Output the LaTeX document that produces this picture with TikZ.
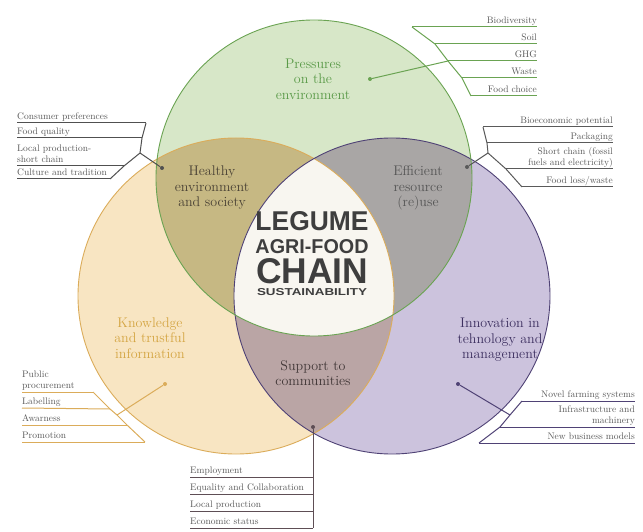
\documentclass[tikz,border=0pt]{standalone}
\usepackage{graphicx}
\usepackage{fontspec}
\newfontfamily\titlefont{Liberation Sans}
\usepackage{tikz}

\definecolor{grnline}{HTML}{6AA352}
\definecolor{grnfill}{HTML}{D7E7C8}
\definecolor{grntext}{HTML}{5A9A48}
\definecolor{orgline}{HTML}{DBAC5A}
\definecolor{orgfill}{HTML}{F8E5C2}
\definecolor{orgtext}{HTML}{D4A543}
\definecolor{purline}{HTML}{4F4275}
\definecolor{purfill}{HTML}{CCC3DD}
\definecolor{purtext}{HTML}{3D3060}
\definecolor{gofill}{HTML}{C6B883}
\definecolor{gpfill}{HTML}{A9A6A5}
\definecolor{opfill}{HTML}{BAA5A5}
\definecolor{midfill}{HTML}{F8F6F0}
\definecolor{hstext}{HTML}{4A4235}
\definecolor{ertext}{HTML}{555555}
\definecolor{sctext}{HTML}{403636}
\definecolor{titletext}{HTML}{3E3E3E}
\definecolor{hsline}{HTML}{505050}
\definecolor{erline}{HTML}{5A5A5A}
\definecolor{scline}{HTML}{5E4E55}

\newcommand{\ttlline}[3]{\hbox to 113pt{\hss\resizebox{#1}{#2}{#3}\hss}}

\begin{document}
\begin{tikzpicture}[x=1pt, y=-1pt]
    \tikzset{
        itemtext/.style={
            inner xsep=0pt, inner ysep=1pt, text depth=2.5pt,
            font=\fontsize{9.5}{10.5}\selectfont, text=black!65
        },
        itemR/.style={itemtext, anchor=south east, align=right},
        itemL/.style={itemtext, anchor=south west, align=left},
        circlabel/.style={align=center, font=\fontsize{14}{15.5}\selectfont},
        titlebox/.style={inner sep=0pt, anchor=south, text=titletext, font=\titlefont\bfseries},
        pin/.style={circle, fill, inner sep=0pt, minimum size=4pt},
        leader/.style={line width=1pt},
    }
    \useasboundingbox (0,0) rectangle (643,532);

    % ==== Circle centres ====
    \coordinate (cg) at (314,178);
    \coordinate (co) at (236,296);
    \coordinate (cp) at (392,296);

    % ==== Fills ====
    \fill[orgfill] (co) circle[radius=158pt];
    \fill[purfill] (cp) circle[radius=158pt];
    \fill[grnfill] (cg) circle[radius=158pt];
    \begin{scope}
        \clip (cg) circle[radius=158pt];
        \fill[gofill] (co) circle[radius=158pt];
        \fill[gpfill] (cp) circle[radius=158pt];
    \end{scope}
    \begin{scope}
        \clip (co) circle[radius=158pt];
        \fill[opfill] (cp) circle[radius=158pt];
    \end{scope}
    \begin{scope}
        \clip (cg) circle[radius=158pt];
        \clip (co) circle[radius=158pt];
        \fill[midfill] (cp) circle[radius=158pt];
    \end{scope}

    % ==== Outlines ====
    \draw[orgline, line width=0.9pt] (co) circle[radius=158pt];
    \draw[purline, line width=0.9pt] (cp) circle[radius=158pt];
    \draw[grnline, line width=0.9pt] (cg) circle[radius=158pt];

    % ==== Circle labels ====
    \node[circlabel, text=grntext] (lblP) at (313,79) {Pressures\\on the\\environment};
    \node[circlabel, text=hstext] (lblH) at (212,188) {Healthy\\environment\\and society};
    \node[circlabel, text=ertext] (lblE) at (418,188) {Efficient\\resource\\(re)use};
    \node[circlabel, text=orgtext] (lblK) at (150,338) {Knowledge\\and trustful\\information};
    \node[circlabel, text=purtext] (lblI) at (500,340) {Innovation in\\tehnology and\\management};
    \node[circlabel, text=sctext] (lblS) at (313,373) {Support to\\communities};

    % ==== Centre title ====
    \node[titlebox] (ttl) at (312,296) {\vbox{\offinterlineskip
        \ttlline{113pt}{19pt}{LEGUME}\vskip8pt
        \ttlline{113pt}{14pt}{AGRI-FOOD}\vskip5pt
        \ttlline{112pt}{25pt}{CHAIN}\vskip5pt
        \ttlline{110pt}{7pt}{SUSTAINABILITY}}};

    % ==== Pressures on the environment ====
    \node[pin, grnline] (pdot) at (370,79) {};
    \coordinate (pk1) at (412,27);
    \coordinate (pk2) at (435,44);
    \coordinate (pk3) at (448,61);
    \coordinate (pk4) at (462,78);
    \coordinate (pk5) at (471,96);
    \node[itemR] (pi1) at (537,27) {Biodiversity};
    \node[itemR] (pi2) at (537,44) {Soil};
    \node[itemR] (pi3) at (537,61) {GHG};
    \node[itemR] (pi4) at (537,78) {Waste};
    \node[itemR] (pi5) at (537,96) {Food choice};
    \draw[leader, grnline] (pk1) -- (pk2) -- (pk3) -- (pk4) -- (pk5);
    \foreach \i in {1,...,5}
        \draw[leader, grnline] (pk\i) -- (pi\i.south east);
    \draw[leader, grnline] (pdot) -- (pk3);

    % ==== Healthy environment and society ====
    \node[pin, hsline] (hdot) at (162,168) {};
    \coordinate (hk1) at (146,123);
    \coordinate (hk2) at (142,138);
    \coordinate (hkm) at (140,153);
    \coordinate (hk3) at (124,166);
    \coordinate (hk4) at (110,179);
    \node[itemL] (hi1) at (17,123) {Consumer preferences};
    \node[itemL] (hi2) at (17,138) {Food quality};
    \node[itemL] (hi3) at (17,166) {Local production-\\short chain};
    \node[itemL] (hi4) at (17,179) {Culture and tradition};
    \draw[leader, hsline] (hk1) -- (hk2) -- (hkm) -- (hk3) -- (hk4);
    \foreach \i in {1,...,4}
        \draw[leader, hsline] (hi\i.south west) -- (hk\i);
    \draw[leader, hsline] (hdot) -- (hkm);

    % ==== Efficient resource (re)use ====
    \node[pin, erline] (edot) at (467,167) {};
    \coordinate (ek1) at (483,127);
    \coordinate (ek2) at (487,143);
    \coordinate (ekm) at (488,153);
    \coordinate (ek3) at (506,169);
    \coordinate (ek4) at (522,187);
    \node[itemR] (ei1) at (613,127) {Bioeconomic potential};
    \node[itemR] (ei2) at (613,143) {Packaging};
    \node[itemR] (ei3) at (613,169) {Short chain (fossil\\fuels and electricity)};
    \node[itemR] (ei4) at (613,187) {Food loss/waste};
    \draw[leader, erline] (ek1) -- (ek2) -- (ekm) -- (ek3) -- (ek4);
    \foreach \i in {1,...,4}
        \draw[leader, erline] (ek\i) -- (ei\i.south east);
    \draw[leader, erline] (edot) -- (ekm);

    % ==== Knowledge and trustful information ====
    \node[pin, orgline] (kdot) at (165,384) {};
    \coordinate (kk1) at (93,392);
    \coordinate (kk2) at (110,409);
    \coordinate (kkm) at (117,415);
    \coordinate (kk3) at (127,425);
    \coordinate (kk4) at (145,442);
    \node[itemL] (ki1) at (22,392) {Public\\procurement};
    \node[itemL] (ki2) at (22,408) {Labelling};
    \node[itemL] (ki3) at (22,425) {Awarness};
    \node[itemL] (ki4) at (22,442) {Promotion};
    \draw[leader, orgline] (kk1) -- (kk2) -- (kkm) -- (kk3) -- (kk4);
    \foreach \i in {1,...,4}
        \draw[leader, orgline] (ki\i.south west) -- (kk\i);
    \draw[leader, orgline] (kdot) -- (kkm);

    % ==== Support to communities ====
    \node[pin, scline] (sdot) at (313,427) {};
    \coordinate (sk4) at (313,528);
    \node[itemL] (si1) at (190,477) {Employment};
    \node[itemL] (si2) at (190,494) {Equality and Collaboration};
    \node[itemL] (si3) at (190,511) {Local production};
    \node[itemL] (si4) at (190,528) {Economic status};
    \draw[leader, scline] (sdot) -- (sk4);
    \foreach \i in {1,...,4}
        \draw[leader, scline] (si\i.south west) -- (si\i.south west -| sdot);

    % ==== Innovation in tehnology and management ====
    \node[pin, purline] (idot) at (458,384) {};
    \coordinate (ik1) at (522,401);
    \coordinate (ikm) at (510,415);
    \coordinate (ik2) at (500,427);
    \coordinate (ik3) at (479,443);
    \node[itemR] (ii1) at (635,401) {Novel farming systems};
    \node[itemR] (ii2) at (635,427) {Infrastructure and\\machinery};
    \node[itemR] (ii3) at (635,443) {New business models};
    \draw[leader, purline] (ik1) -- (ikm) -- (ik2) -- (ik3);
    \foreach \i in {1,...,3}
        \draw[leader, purline] (ik\i) -- (ii\i.south east);
    \draw[leader, purline] (idot) -- (ikm);
\end{tikzpicture}
\end{document}
